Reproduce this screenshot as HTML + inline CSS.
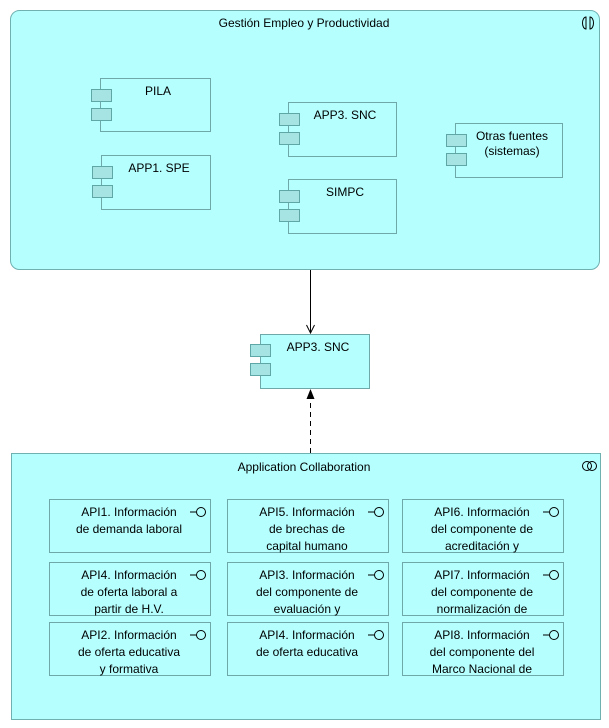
<!DOCTYPE html>
<html><head><meta charset="utf-8"><style>
body{margin:0;background:#fff}
svg{display:block}
text{font-family:"Liberation Sans",sans-serif;font-size:12px;fill:#000}
</style></head><body>
<svg width="609" height="728" viewBox="0 0 609 728" xmlns="http://www.w3.org/2000/svg">
<defs>
<g id="sq"><rect x="0" y="0" width="20" height="12" fill="#a6e3e3" stroke="#5fa6a6"/><rect x="0" y="19" width="20" height="12" fill="#a6e3e3" stroke="#5fa6a6"/></g>
</defs>
<rect x="10.5" y="10.5" width="589" height="259" rx="9" fill="#b5ffff" stroke="#6fb0b0"/>
<text x="304" y="27" text-anchor="middle">Gestión Empleo y Productividad</text>
<g fill="none" stroke="#000" stroke-width="1"><path d="M586 17 a3.5 6 0 0 0 0 12 z"/><path d="M590 17 a3.5 6 0 0 1 0 12 z"/></g>
<g fill="#b5ffff" stroke="#6fa8a8">
<rect x="100.5" y="78.5" width="110" height="53"/>
<rect x="101.5" y="155.5" width="109" height="54"/>
<rect x="288.5" y="102.5" width="108" height="54"/>
<rect x="288.5" y="179.5" width="108" height="54"/>
<rect x="455.5" y="123.5" width="107" height="54"/>
</g>
<use href="#sq" x="91.5" y="89.5"/>
<use href="#sq" x="92.5" y="166.5"/>
<use href="#sq" x="279.5" y="113.5"/>
<use href="#sq" x="279.5" y="190.5"/>
<use href="#sq" x="446.5" y="134.5"/>
<text x="158" y="95" text-anchor="middle">PILA</text>
<text x="159" y="172" text-anchor="middle">APP1. SPE</text>
<text x="345" y="119" text-anchor="middle">APP3. SNC</text>
<text x="345" y="196" text-anchor="middle">SIMPC</text>
<text x="512" y="140" text-anchor="middle">Otras fuentes</text>
<text x="512" y="155" text-anchor="middle">(sistemas)</text>

<line x1="310.5" y1="270" x2="310.5" y2="333" stroke="#000"/>
<path d="M306.5 325 L310.5 333 L314.5 325" fill="none" stroke="#000"/>

<rect x="260.5" y="334.5" width="109" height="54" fill="#b5ffff" stroke="#6fa8a8"/>
<use href="#sq" x="250.5" y="344.5"/>
<text x="318" y="351" text-anchor="middle">APP3. SNC</text>

<line x1="310.5" y1="453" x2="310.5" y2="398" stroke="#000" stroke-dasharray="5,4"/>
<path d="M306.5 399 L310.5 389 L314.5 399 Z" fill="#000"/>

<rect x="11.5" y="453.5" width="589" height="266" fill="#b5ffff" stroke="#6fb0b0"/>
<text x="304" y="471" text-anchor="middle">Application Collaboration</text>
<g fill="none" stroke="#000"><circle cx="587" cy="466" r="4.5"/><circle cx="592" cy="466" r="4.5"/></g>

<g fill="#b5ffff" stroke="#6fa8a8">
<rect x="49.5" y="499.5" width="161" height="53"/><rect x="227.5" y="499.5" width="161" height="53"/><rect x="402.5" y="499.5" width="161" height="53"/>
<rect x="49.5" y="562.5" width="161" height="53"/><rect x="227.5" y="562.5" width="161" height="53"/><rect x="402.5" y="562.5" width="161" height="53"/>
<rect x="49.5" y="622.5" width="161" height="53"/><rect x="227.5" y="622.5" width="161" height="53"/><rect x="402.5" y="622.5" width="161" height="53"/>
</g>
<g fill="none" stroke="#000">
<path d="M190 512h6"/><circle cx="201" cy="512" r="4.5"/>
<path d="M368 512h6"/><circle cx="379" cy="512" r="4.5"/>
<path d="M543 512h6"/><circle cx="554" cy="512" r="4.5"/>
<path d="M190 575h6"/><circle cx="201" cy="575" r="4.5"/>
<path d="M368 575h6"/><circle cx="379" cy="575" r="4.5"/>
<path d="M543 575h6"/><circle cx="554" cy="575" r="4.5"/>
<path d="M190 635h6"/><circle cx="201" cy="635" r="4.5"/>
<path d="M368 635h6"/><circle cx="379" cy="635" r="4.5"/>
<path d="M543 635h6"/><circle cx="554" cy="635" r="4.5"/>
</g>
<g text-anchor="middle">
<text x="129" y="516">API1. Información</text><text x="129" y="533">de demanda laboral</text>
<text x="307" y="516">API5. Información</text><text x="307" y="533">de brechas de</text><text x="307" y="550">capital humano</text>
<text x="482" y="516">API6. Información</text><text x="482" y="533">del componente de</text><text x="482" y="550">acreditación y</text>
<text x="129" y="579">API4. Información</text><text x="129" y="596">de oferta laboral a</text><text x="129" y="613">partir de H.V.</text>
<text x="307" y="579">API3. Información</text><text x="307" y="596">del componente de</text><text x="307" y="613">evaluación y</text>
<text x="482" y="579">API7. Información</text><text x="482" y="596">del componente de</text><text x="482" y="613">normalización de</text>
<text x="129" y="639">API2. Información</text><text x="129" y="656">de oferta educativa</text><text x="129" y="673">y formativa</text>
<text x="307" y="639">API4. Información</text><text x="307" y="656">de oferta educativa</text>
<text x="482" y="639">API8. Información</text><text x="482" y="656">del componente del</text><text x="482" y="673">Marco Nacional de</text>
</g>
</svg>
</body></html>
